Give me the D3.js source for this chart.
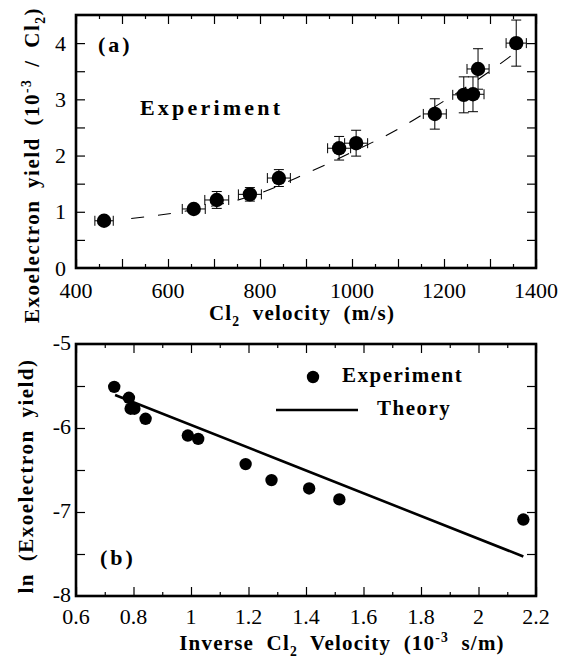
<!DOCTYPE html>
<html>
<head>
<meta charset="utf-8">
<script src="https://cdn.jsdelivr.net/npm/d3@7"></script>
<style>
  body { margin: 0; background: #fff; }
  svg text { font-family: "Liberation Serif", "Tinos", "Times New Roman", "DejaVu Serif", serif; fill: #000; }
</style>
</head>
<body>
<svg id="chart" width="561" height="661"></svg>
<script>
// Panel (a): exoelectron yield vs Cl2 velocity
const velocity = [461, 656, 706, 778, 841, 972, 1009, 1180, 1243, 1263, 1274, 1357];
const yieldA = [0.84, 1.05, 1.21, 1.31, 1.60, 2.13, 2.22, 2.74, 3.08, 3.09, 3.54, 4.00];
const velErr = [20, 25, 26, 25, 25, 25, 25, 25, 24, 24, 24, 22];
const yieldErr = [0.03, 0.06, 0.15, 0.12, 0.15, 0.21, 0.23, 0.27, 0.32, 0.31, 0.36, 0.41];
const fitV = [520, 650, 800, 900, 1000, 1100, 1200, 1300, 1345];
const fitY = [0.88, 1.03, 1.33, 1.68, 2.06, 2.47, 2.97, 3.50, 3.77];
const ticksAx = [400, 600, 800, 1000, 1200, 1400];
const ticksAy = [0, 1, 2, 3, 4];

// Panel (b): ln(yield) vs inverse velocity
const invVel = [0.733, 0.784, 0.790, 0.803, 0.842, 0.989, 1.025, 1.190, 1.280, 1.411, 1.516, 2.156];
const lnYield = [-5.51, -5.64, -5.77, -5.77, -5.89, -6.09, -6.13, -6.43, -6.62, -6.72, -6.85, -7.09];
const theoryX = [0.736, 1.31, 2.156];
const theoryY = [-5.607, -6.384, -7.53];
const ticksBx = [0.6, 0.8, 1, 1.2, 1.4, 1.6, 1.8, 2, 2.2];
const ticksBy = [-5, -6, -7, -8];

const svg = d3.select("#chart");
const L = 76, R = 536;

function label(g, x, y, size, bold) {
    return g.append("text").attr("x", x).attr("y", y)
        .attr("font-size", size)
        .attr("font-weight", bold ? "bold" : "normal");
}

// text with sub/superscript pieces
function richText(g, parts, size) {
    parts.forEach(p => {
        const t = g.append("tspan").text(p.t);
        if (p.s === "sub") t.attr("font-size", size * 0.65).attr("dy", size * 0.3);
        if (p.s === "sup") t.attr("font-size", size * 0.65).attr("dy", -size * 0.4);
        if (p.back) t.attr("dy", p.back);
    });
}

function panel(top, bottom, xDom, yDom, xMajor, xMinor, yMinor) {
    const x = d3.scaleLinear().domain(xDom).range([L, R]);
    const y = d3.scaleLinear().domain(yDom).range([bottom, top]);
    const g = svg.append("g");

    // ticks point inward on all four sides
    const tk = (axis, tr) => g.append("g").attr("transform", tr).call(axis)
        .call(s => s.select(".domain").remove())
        .call(s => s.selectAll("line").attr("stroke", "#000").attr("stroke-width", 1.2));

    tk(d3.axisBottom(x).tickValues(xMinor).tickSize(-4).tickFormat(""), `translate(0,${bottom})`);
    tk(d3.axisTop(x).tickValues(xMinor).tickSize(-4).tickFormat(""), `translate(0,${top})`);
    tk(d3.axisBottom(x).tickValues(xMajor).tickSize(-9).tickFormat(""), `translate(0,${bottom})`);
    tk(d3.axisTop(x).tickValues(xMajor).tickSize(-9).tickFormat(""), `translate(0,${top})`);
    tk(d3.axisLeft(y).tickValues(yMinor).tickSize(-9).tickFormat(""), `translate(${L},0)`);
    tk(d3.axisRight(y).tickValues(yMinor).tickSize(-9).tickFormat(""), `translate(${R},0)`);

    g.append("rect")
        .attr("x", L).attr("y", top)
        .attr("width", R - L).attr("height", bottom - top)
        .attr("fill", "none").attr("stroke", "#000").attr("stroke-width", 2.6);

    return { x, y, g };
}

// ---------- panel (a) ----------
const A = panel(15, 268, [400, 1400], [0, 4.5],
    d3.range(400, 1401, 100), d3.range(450, 1400, 100), d3.range(0.5, 4.5, 0.5));

ticksAx.forEach(d => label(A.g, A.x(d), 298, 22).attr("text-anchor", "middle").text(d));
ticksAy.forEach(d => label(A.g, 66, A.y(d) + 7.5, 22).attr("text-anchor", "end").text(d));

// dashed fit curve
A.g.append("path")
    .datum(fitV.map((v, i) => [v, fitY[i]]))
    .attr("fill", "none").attr("stroke", "#000").attr("stroke-width", 1.1)
    .attr("stroke-dasharray", "13,14")
    .attr("d", d3.line().x(d => A.x(d[0])).y(d => A.y(d[1])).curve(d3.curveMonotoneX));

// error bars
const cap = 5;
velocity.forEach((v, i) => {
    const cx = A.x(v), cy = A.y(yieldA[i]);
    const x0 = A.x(v - velErr[i]), x1 = A.x(v + velErr[i]);
    const y0 = A.y(yieldA[i] - yieldErr[i]), y1 = A.y(yieldA[i] + yieldErr[i]);
    const eb = A.g.append("g").attr("stroke", "#000").attr("stroke-width", 1);
    eb.append("line").attr("x1", x0).attr("x2", x1).attr("y1", cy).attr("y2", cy);
    eb.append("line").attr("x1", x0).attr("x2", x0).attr("y1", cy - cap).attr("y2", cy + cap);
    eb.append("line").attr("x1", x1).attr("x2", x1).attr("y1", cy - cap).attr("y2", cy + cap);
    eb.append("line").attr("x1", cx).attr("x2", cx).attr("y1", y0).attr("y2", y1);
    eb.append("line").attr("x1", cx - cap).attr("x2", cx + cap).attr("y1", y0).attr("y2", y0);
    eb.append("line").attr("x1", cx - cap).attr("x2", cx + cap).attr("y1", y1).attr("y2", y1);
});

A.g.selectAll(".pt").data(velocity).enter().append("circle")
    .attr("cx", d => A.x(d)).attr("cy", (d, i) => A.y(yieldA[i]))
    .attr("r", 7.2).attr("fill", "#000");

label(A.g, 98, 52, 22, true).attr("letter-spacing", 3).text("(a)");
label(A.g, 140, 115, 22, true).attr("letter-spacing", 3.2).text("Experiment");

// axis titles (a)
const tA = label(A.g, 302, 320, 21, true)
    .attr("text-anchor", "middle").attr("letter-spacing", 1.2).attr("word-spacing", 6);
richText(tA, [{ t: "Cl" }, { t: "2", s: "sub" }, { t: " velocity  (m/s)", back: -21 * 0.3 }], 21);

const yA = label(A.g, 0, 0, 21, true).attr("transform", "translate(39,165) rotate(-90)")
    .attr("text-anchor", "middle").attr("letter-spacing", 1.5).attr("word-spacing", 5);
richText(yA, [{ t: "Exoelectron  yield  (10" }, { t: "-3", s: "sup" },
    { t: " / Cl", back: 21 * 0.4 }, { t: "2", s: "sub" }, { t: ")", back: -21 * 0.3 }], 21);

// ---------- panel (b) ----------
const B = panel(344, 596, [0.6, 2.2], [-8, -5],
    d3.range(0.6, 2.21, 0.2), d3.range(0.7, 2.2, 0.2), d3.range(-7.5, -5, 0.5));

ticksBx.forEach(d => label(B.g, B.x(d), 624, 22).attr("text-anchor", "middle").text(String(d)));
ticksBy.forEach(d => label(B.g, 71, B.y(d) + 6, 22).attr("text-anchor", "end").text(String(d)));

B.g.append("path")
    .datum(theoryX.map((v, i) => [v, theoryY[i]]))
    .attr("fill", "none").attr("stroke", "#000").attr("stroke-width", 2.6)
    .attr("d", d3.line().x(d => B.x(d[0])).y(d => B.y(d[1])));

B.g.selectAll(".pt").data(invVel).enter().append("circle")
    .attr("cx", d => B.x(d)).attr("cy", (d, i) => B.y(lnYield[i]))
    .attr("r", 6.2).attr("fill", "#000");

// legend
B.g.append("circle").attr("cx", 313).attr("cy", 377).attr("r", 6.2).attr("fill", "#000");
label(B.g, 342, 382, 21, true).attr("letter-spacing", 1.5).text("Experiment");
B.g.append("line").attr("x1", 276).attr("x2", 358).attr("y1", 410).attr("y2", 410)
    .attr("stroke", "#000").attr("stroke-width", 2.6);
label(B.g, 377, 415, 21, true).attr("letter-spacing", 1.5).text("Theory");

label(B.g, 100, 565, 22, true).attr("letter-spacing", 3).text("(b)");

const tB = label(B.g, 342, 650, 21, true)
    .attr("text-anchor", "middle").attr("letter-spacing", 1.2).attr("word-spacing", 6);
richText(tB, [{ t: "Inverse  Cl" }, { t: "2", s: "sub" }, { t: " Velocity  (10", back: -21 * 0.3 },
    { t: "-3", s: "sup" }, { t: " s/m)", back: 21 * 0.4 }], 21);

const yB = label(B.g, 0, 0, 21, true).attr("transform", "translate(33,476) rotate(-90)")
    .attr("text-anchor", "middle").attr("letter-spacing", 1.5).attr("word-spacing", 5);
yB.text("ln  (Exoelectron  yield)");
</script>
</body>
</html>
